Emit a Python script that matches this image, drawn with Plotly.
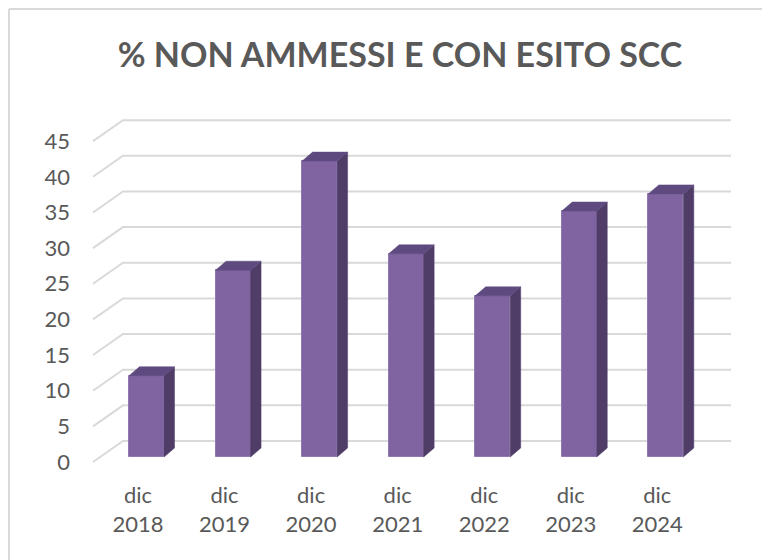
import plotly.graph_objects as go

# ---------------- data ----------------
categories = ["dic<br>2018", "dic<br>2019", "dic<br>2020", "dic<br>2021",
              "dic<br>2022", "dic<br>2023", "dic<br>2024"]
values = [11.4, 26.2, 41.5, 28.5, 22.6, 34.5, 36.9]
y_ticks = [0, 5, 10, 15, 20, 25, 30, 35, 40, 45]
title_text = "% NON AMMESSI E CON ESITO SCC"

# ---------------- style ----------------
PAGE = 8                      # page body margin offset
W, H = 770 - PAGE, 560 - PAGE
L, R, T, B = 80 - PAGE, 740 - PAGE, 100 - PAGE, 480 - PAGE
PX_X = 86.55                  # px per category
PX_Y = 7.13                   # px per unit
ZERO_Y = 462 - PAGE           # front zero line (figure px)
CAT0_X = 138 - PAGE           # first category label centre (figure px)
X0 = -(CAT0_X - L) / PX_X
X1 = X0 + (R - L) / PX_X
Y0 = -(B - ZERO_Y) / PX_Y
Y1 = Y0 + (B - T) / PX_Y

FRONT = "#8064A2"
SIDE = "#4F3D68"
TOP = "#5F4A80"
EDGE = "#9079B0"
GRID = "#D9D9D9"
TXT = "#595959"
FONT = "Lato"

bar_off = 8.5 / PX_X          # front face shifted right of label
bar_w = 35 / PX_X
base = 5 / PX_Y               # bar floor sits slightly behind the front edge
dx = 10.5 / PX_X              # depth offset (x)
dy = 9 / PX_Y                 # depth offset (y)
wall_dy = 21 / PX_Y           # back wall offset
grid_x_front = (93 - PAGE - L) / PX_X + X0
grid_x_back = (123 - PAGE - L) / PX_X + X0
grid_x_end = (731 - PAGE - L) / PX_X + X0

xs = [i + bar_off for i in range(len(values))]

fig = go.Figure()

# front faces
fig.add_trace(go.Bar(x=xs, y=values, base=base, width=bar_w,
                     marker=dict(color=FRONT, line=dict(color=EDGE, width=1)),
                     hoverinfo="skip", showlegend=False))

# side faces
sx, sy = [], []
for x, v in zip(xs, values):
    xr = x + bar_w / 2
    sx += [xr, xr + dx, xr + dx, xr, xr, None]
    sy += [base, base + dy, base + v + dy, base + v, base, None]
fig.add_trace(go.Scatter(x=sx, y=sy, mode="lines", fill="toself",
                         fillcolor=SIDE, line=dict(color=SIDE, width=0.5),
                         hoverinfo="skip", showlegend=False))

# top faces
tx, ty = [], []
for x, v in zip(xs, values):
    xl, xr = x - bar_w / 2, x + bar_w / 2
    top = base + v
    tx += [xl, xr, xr + dx, xl + dx, xl, None]
    ty += [top, top, top + dy, top + dy, top, None]
fig.add_trace(go.Scatter(x=tx, y=ty, mode="lines", fill="toself",
                         fillcolor=TOP, line=dict(color=TOP, width=0.5),
                         hoverinfo="skip", showlegend=False))

# gridlines (floor diagonal + back wall), drawn beneath the bars
for t in y_ticks:
    fig.add_shape(type="path", xref="x", yref="y", layer="below",
                  path=f"M {grid_x_front},{t} L {grid_x_back},{t + wall_dy} L {grid_x_end},{t + wall_dy}",
                  line=dict(color=GRID, width=2))

# chart-area border (left + top edges visible in the crop), kept inside the figure
bx = (1 - L) / (R - L)
by = (B - 1) / (B - T)
fig.add_shape(type="line", xref="paper", yref="paper", layer="below",
              x0=bx, x1=bx, y0=by, y1=(B - H) / (B - T),
              line=dict(color=GRID, width=2))
fig.add_shape(type="line", xref="paper", yref="paper", layer="below",
              x0=bx, x1=(W - L) / (R - L), y0=by, y1=by,
              line=dict(color=GRID, width=2))

fig.update_layout(
    width=W, height=H,
    margin=dict(l=L, r=W - R, t=T, b=H - B),
    paper_bgcolor="white", plot_bgcolor="white",
    title=dict(text="<b>" + title_text + "</b>", x=(400 - PAGE) / W, xref="container",
               xanchor="center", y=1 - (55 - PAGE) / H, yref="container", yanchor="middle",
               font=dict(family=FONT, size=34, color=TXT)),
    font=dict(family=FONT, size=22, color=TXT),
    xaxis=dict(range=[X0, X1], tickmode="array", tickvals=list(range(len(categories))),
               ticktext=categories, showgrid=False, zeroline=False, showline=False,
               ticks="", tickfont=dict(family=FONT, size=22, color=TXT)),
    yaxis=dict(range=[Y0, Y1], tickmode="array", tickvals=y_ticks,
               ticktext=[str(t) for t in y_ticks], showgrid=False, zeroline=False,
               showline=False, ticks="", ticklabelstandoff=9,
               tickfont=dict(family=FONT, size=22, color=TXT)),
    bargap=0,
)

fig.write_html("out.html")
